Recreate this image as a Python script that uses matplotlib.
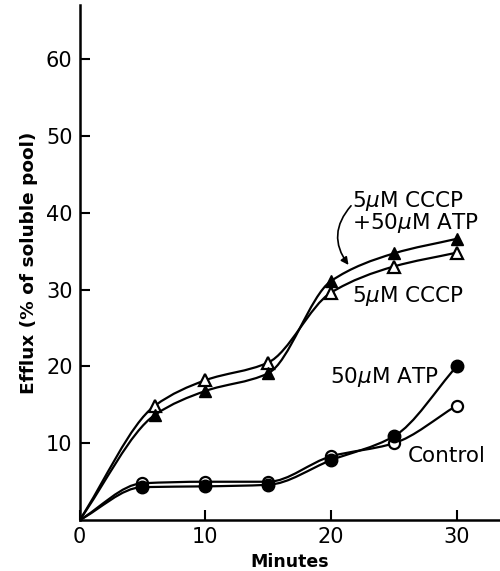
import numpy as np
import matplotlib
matplotlib.use("Agg")
import matplotlib.pyplot as plt
from matplotlib.path import Path
from matplotlib.patches import PathPatch

# minutes and efflux (% of soluble pool)
t_tri = [0, 6, 10, 15, 20, 25, 30]
cccp_atp = [0, 13.7, 16.8, 19.1, 31.1, 34.7, 36.6]   # filled triangles
cccp = [0, 14.9, 18.2, 20.5, 29.6, 33.0, 34.8]       # open triangles

t_circ = [0, 5, 10, 15, 20, 25, 30]
atp = [0, 4.3, 4.4, 4.6, 7.8, 10.9, 20.0]            # filled circles
control = [0, 4.8, 5.0, 5.0, 8.3, 10.0, 14.9]        # open circles

xticks = [0, 10, 20, 30]
yticks = [10, 20, 30, 40, 50, 60]


def smooth_path(x, y):
    # monotone (Fritsch-Carlson) tangents, drawn as cubic beziers
    x = np.asarray(x, float)
    y = np.asarray(y, float)
    h = np.diff(x)
    d = np.diff(y) / h
    m = np.zeros_like(y)
    m[0] = d[0]
    m[-1] = d[-1]
    for i in range(1, len(x) - 1):
        if d[i - 1] * d[i] <= 0:
            m[i] = 0
        else:
            w1 = 2 * h[i] + h[i - 1]
            w2 = h[i] + 2 * h[i - 1]
            m[i] = (w1 + w2) / (w1 / d[i - 1] + w2 / d[i])
    verts = [(x[0], y[0])]
    codes = [Path.MOVETO]
    for i in range(len(x) - 1):
        verts += [(x[i] + h[i] / 3, y[i] + m[i] * h[i] / 3),
                  (x[i + 1] - h[i] / 3, y[i + 1] - m[i + 1] * h[i] / 3),
                  (x[i + 1], y[i + 1])]
        codes += [Path.CURVE4] * 3
    return Path(verts, codes)


fig = plt.figure(figsize=(5.0, 5.71), dpi=100)
ax = fig.add_axes([0.159, 0.089, 0.841, 0.902])

for xs, ys in [(t_tri, cccp_atp), (t_tri, cccp), (t_circ, atp), (t_circ, control)]:
    ax.add_patch(PathPatch(smooth_path(xs, ys), fill=False, lw=1.6,
                           ec="black", transform=ax.transData, zorder=2))

ax.plot(t_tri[1:], cccp[1:], ls="none", marker="^", ms=9, mfc="white",
        mec="black", mew=1.6, zorder=3)
ax.plot(t_tri[1:], cccp_atp[1:], ls="none", marker="^", ms=9, mfc="black",
        mec="black", zorder=3)
ax.plot(t_circ[1:], control[1:], ls="none", marker="o", ms=8, mfc="white",
        mec="black", mew=1.6, zorder=3)
ax.plot(t_circ[1:], atp[1:], ls="none", marker="o", ms=9, mfc="black",
        mec="black", zorder=3)

fs = 15.5
ax.text(21.7, 40.1, "5$\\mu$M CCCP\n+50$\\mu$M ATP", fontsize=fs, va="center",
        linespacing=0.9)
ax.text(21.7, 29.2, r"5$\mu$M CCCP", fontsize=fs, va="center")
ax.text(19.9, 18.6, r"50$\mu$M ATP", fontsize=fs, va="center")
ax.text(26.1, 8.4, "Control", fontsize=fs, va="center")
ax.annotate("", xy=(21.4, 33.2), xytext=(21.6, 40.9),
            arrowprops=dict(arrowstyle="-|>", lw=1.2, color="black",
                            connectionstyle="arc3,rad=0.4", mutation_scale=11,
                            shrinkA=0, shrinkB=0))

ax.set_xlim(0, 33.45)
ax.set_ylim(0, 67)
ax.set_xticks(xticks)
ax.set_yticks(yticks)
ax.tick_params(direction="in", length=7, width=1.5, labelsize=15, pad=5)
for side in ["top", "right"]:
    ax.spines[side].set_visible(False)
for side in ["left", "bottom"]:
    ax.spines[side].set_linewidth(1.8)
ax.set_xlabel("Minutes", fontsize=12.5, fontweight="bold", labelpad=4)
ax.set_ylabel("Efflux (% of soluble pool)", fontsize=13.3, fontweight="bold", labelpad=6)

fig.savefig("out.png", dpi=100)
